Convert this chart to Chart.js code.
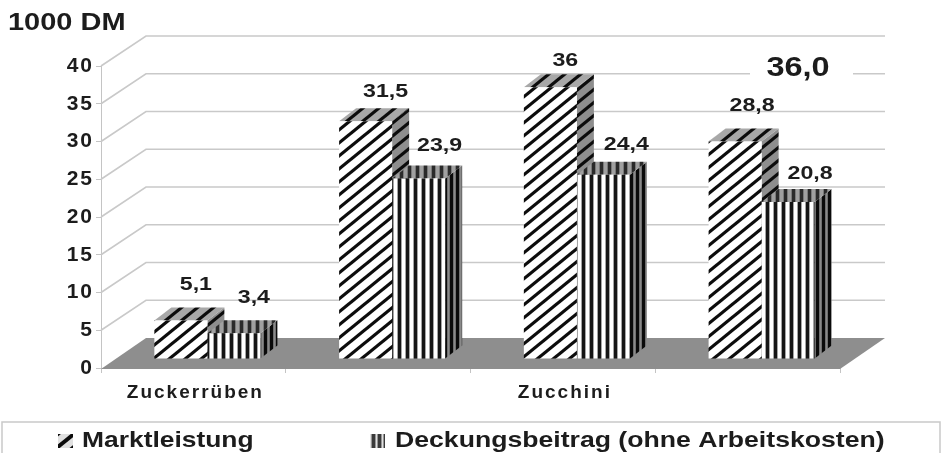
<!DOCTYPE html>
<html lang="de">
<head>
<meta charset="utf-8">
<title>Marktleistung und Deckungsbeitrag</title>
<style>
  html, body { margin: 0; padding: 0; background: #fff; }
  canvas { display: block; }
</style>
<script src="https://cdn.jsdelivr.net/npm/chart.js@4"></script>
</head>
<body>
<canvas id="chart" width="941" height="453"></canvas>
<script>
// Chart data
const categories = ["Zuckerrüben", "", "Zucchini", ""];
const marktleistung = [5.1, 31.5, 36, 28.8];
const deckungsbeitrag = [3.4, 23.9, 24.4, 20.8];
const seriesNames = ["Marktleistung", "Deckungsbeitrag (ohne Arbeitskosten)"];
const unitLabel = "1000 DM";
const highlightLabel = "36,0";

// Perspective of the pseudo-3D box
const wall = { dx: 45, dy: 30 };       // back wall relative to the front axis
const barShift = { dx: 14, dy: 9 };    // bar fronts relative to the front axis
const barDepth = { dx: 17, dy: 13 };   // visible depth of each bar

// Individual label nudges from the centre-top of each bar's back edge
const labelNudges = [
  [[15, -23], [20, -16], [15, -13], [17, -23]],
  [[20, -23], [21, -20], [23, -17], [22, -15]]
];

const INK = "#1c1c1c";
const GRID = "#c9c9c9";
const FLOOR = "#8e8e8e";
const FONT = '"Liberation Sans", Arial, sans-serif';

function tile(w, h, paint) {
  const c = document.createElement("canvas");
  c.width = w; c.height = h;
  paint(c.getContext("2d"), w, h);
  return c;
}

// Diagonal hatching, rising to the right
function hatch(bg, w = 16, h = 13, lw = 3.2) {
  const t = tile(w, h, (g) => {
    g.fillStyle = bg; g.fillRect(0, 0, w, h);
    g.strokeStyle = "#0c0c0c"; g.lineWidth = lw;
    for (const off of [-w, 0, w]) {
      g.beginPath();
      g.moveTo(off - w, 2 * h); g.lineTo(off + 2 * w, -h);
      g.stroke();
    }
  });
  return document.createElement("canvas").getContext("2d").createPattern(t, "repeat");
}

// Upright stripes
function stripes(bg, dark = "#151515", w = 8) {
  const t = tile(w, 4, (g) => {
    g.fillStyle = bg; g.fillRect(0, 0, w, 4);
    g.fillStyle = dark; g.fillRect(0, 0, 3, 4);
    g.fillStyle = "rgba(90,90,90,0.55)"; g.fillRect(3, 0, 1, 4); g.fillRect(w - 1, 0, 1, 4);
  });
  return document.createElement("canvas").getContext("2d").createPattern(t, "repeat");
}

const faces = [
  { front: hatch("#ffffff"), top: hatch("#a8a8a8"), side: hatch("#8e8e8e") },
  { front: stripes("#ffffff"), top: stripes("#a0a0a0", "#2a2a2a"), side: stripes("#8a8a8a", "#0a0a0a", 6) }
];
const legendSwatches = [hatch("#e0e0e0", 16, 13, 4), stripes("#e0e0e0", "#3a3a3a", 6)];

// Text widened horizontally around its anchor point
function wideText(ctx, text, x, y, size, stretch, align = "center") {
  ctx.save();
  ctx.font = `bold ${size}px ${FONT}`;
  ctx.fillStyle = INK;
  ctx.textAlign = align;
  ctx.textBaseline = "middle";
  ctx.translate(x, y);
  ctx.scale(stretch, 1);
  ctx.fillText(text, 0, 0);
  ctx.restore();
}

function quad(ctx, pts, fill) {
  ctx.beginPath();
  pts.forEach((p, i) => (i ? ctx.lineTo(p[0], p[1]) : ctx.moveTo(p[0], p[1])));
  ctx.closePath();
  ctx.fillStyle = fill;
  ctx.fill();
}

const boxPlugin = {
  id: "box3d",
  beforeDraw(chart) {
    // Widened tick lettering
    chart.ctx.letterSpacing = "2px";
  },
  beforeDatasetsDraw(chart) {
    const { ctx, chartArea: a, scales: { y } } = chart;
    ctx.save();
    ctx.letterSpacing = "0px";

    // Grid lines running along the side and back wall
    ctx.strokeStyle = GRID;
    ctx.lineWidth = 1.6;
    y.ticks.forEach((t) => {
      if (t.value === 0) return;
      const py = y.getPixelForValue(t.value);
      ctx.beginPath();
      ctx.moveTo(a.left, py);
      ctx.lineTo(a.left + wall.dx, py - wall.dy);
      ctx.lineTo(a.right + wall.dx, py - wall.dy);
      ctx.stroke();
    });

    // Floor
    const fy = y.getPixelForValue(0);
    quad(ctx, [
      [a.left, fy + 1],
      [a.left + wall.dx, fy - wall.dy],
      [a.right + wall.dx, fy - wall.dy],
      [a.right, fy + 1]
    ], FLOOR);

    // Callout that interrupts the grid line behind it
    ctx.fillStyle = "#ffffff";
    ctx.fillRect(750, 58, 103, 24);
    wideText(ctx, highlightLabel, 798, 68, 28, 1.16);

    // Side and top faces; the library paints the front faces over them
    chart.getSortedVisibleDatasetMetas().forEach((meta) => {
      const f = faces[meta.index];
      meta.data.forEach((bar) => {
        const { x, y: top, base, width } = bar.getProps(["x", "y", "base", "width"], true);
        const l = x - width / 2 + barShift.dx, r = l + width;
        const t = top - barShift.dy, b = base - barShift.dy;
        const d = barDepth;
        quad(ctx, [[r, t], [r + d.dx, t - d.dy], [r + d.dx, b - d.dy], [r, b]], f.side);
        quad(ctx, [[l, t], [l + d.dx, t - d.dy], [r + d.dx, t - d.dy], [r, t]], f.top);
      });
    });
    ctx.restore();

    // Bar fronts stand partway into the box
    ctx.save();
    ctx.translate(barShift.dx, -barShift.dy);
  },
  afterDatasetsDraw(chart) {
    const { ctx } = chart;
    ctx.restore();
    ctx.save();
    ctx.letterSpacing = "0px";

    // Value labels
    chart.getSortedVisibleDatasetMetas().forEach((meta) => {
      const values = chart.data.datasets[meta.index].data;
      meta.data.forEach((bar, i) => {
        const n = labelNudges[meta.index][i];
        const topEdge = bar.y - barShift.dy - barDepth.dy;
        wideText(ctx, String(values[i]).replace(".", ","),
          bar.x + barShift.dx + n[0], topEdge + n[1], 19, 1.22);
      });
    });

    // Unit above the value axis
    wideText(ctx, unitLabel, 8, 24, 23, 1.26, "left");

    // Legend strip
    ctx.strokeStyle = GRID;
    ctx.lineWidth = 1.5;
    ctx.beginPath();
    ctx.moveTo(2, 453); ctx.lineTo(2, 422); ctx.lineTo(940, 422); ctx.lineTo(940, 453);
    ctx.stroke();

    const items = [
      { sx: 58, tx: 82, stretch: 1.2 },
      { sx: 370, tx: 395, stretch: 1.21 }
    ];
    items.forEach((it, i) => {
      ctx.fillStyle = legendSwatches[i];
      ctx.fillRect(it.sx, 434, 15, 14);
      wideText(ctx, chart.data.datasets[i].label, it.tx, 441, 22, it.stretch, "left");
    });
    ctx.restore();
  }
};

new Chart(document.getElementById("chart"), {
  type: "bar",
  data: {
    labels: categories,
    datasets: [
      { label: seriesNames[0], data: marktleistung, backgroundColor: faces[0].front, borderWidth: 0 },
      { label: seriesNames[1], data: deckungsbeitrag, backgroundColor: faces[1].front, borderWidth: 0 }
    ]
  },
  options: {
    responsive: false,
    animation: false,
    devicePixelRatio: 1,
    layout: { padding: { left: 0, top: 66, right: 101, bottom: 0 } },
    plugins: { legend: { display: false }, title: { display: false }, tooltip: { enabled: false } },
    datasets: { bar: { categoryPercentage: 0.574, barPercentage: 1 } },
    scales: {
      x: {
        afterFit: (s) => { s.height = 85; },
        grid: { drawOnChartArea: false, tickLength: 5, tickColor: "#c4c4c4", offset: true },
        border: { color: "#c4c4c4" },
        ticks: {
          autoSkip: false, maxRotation: 0, padding: 8, labelOffset: 2, color: INK,
          font: { family: FONT, size: 19, weight: "bold" }
        }
      },
      y: {
        min: 0, max: 40,
        afterFit: (s) => { s.width = 101; },
        grid: { drawOnChartArea: false, tickLength: 5, tickColor: "#c4c4c4" },
        border: { color: "#c4c4c4" },
        ticks: {
          stepSize: 5, padding: 2, color: INK,
          font: { family: FONT, size: 21, weight: "bold" }
        }
      }
    }
  },
  plugins: [boxPlugin]
});
</script>
</body>
</html>
